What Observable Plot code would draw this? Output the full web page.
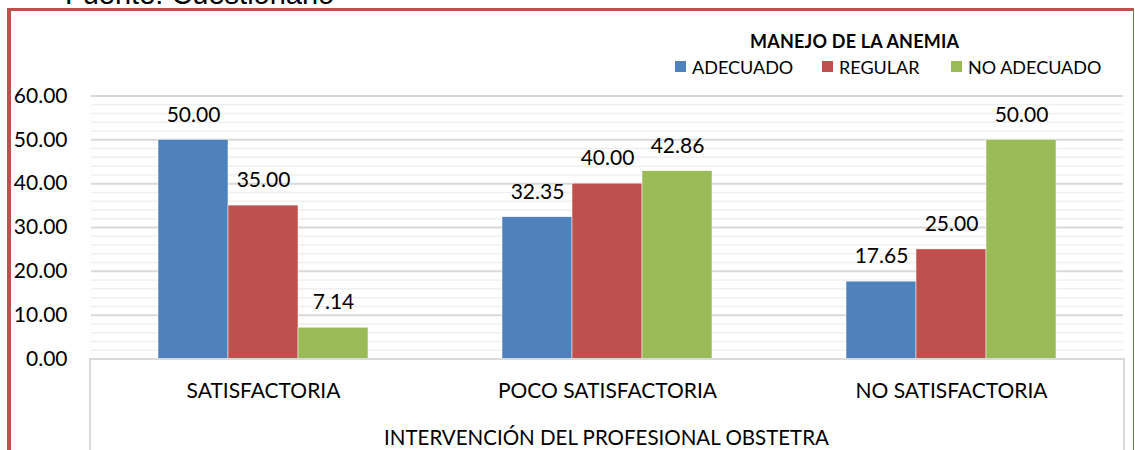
<!DOCTYPE html>
<html>
<head>
<meta charset="utf-8">
<script src="https://cdn.jsdelivr.net/npm/d3@7"></script>
<script src="https://cdn.jsdelivr.net/npm/@observablehq/plot@0.6"></script>
<style>
  html, body { margin: 0; padding: 0; background: #fff; }
  #wrap { position: relative; width: 1135px; height: 450px; overflow: hidden; background: #fff; font-family: Lato, sans-serif; color: #000; }
  #wrap svg { position: absolute; left: 0; top: 0; }
  .abs { position: absolute; white-space: nowrap; }
</style>
</head>
<body>
<div id="wrap"></div>
<script>
// ---- data ----
const categories = ["SATISFACTORIA", "POCO SATISFACTORIA", "NO SATISFACTORIA"];
const series = ["ADECUADO", "REGULAR", "NO ADECUADO"];
const adecuado = [50.00, 32.35, 17.65];
const regular = [35.00, 40.00, 25.00];
const noAdecuado = [7.14, 42.86, 50.00];
const colors = ["#4F81BD", "#C0504D", "#9BBB59"];
const majorTicks = [0, 10, 20, 30, 40, 50, 60];
const minorTicks = [2, 4, 6, 8, 12, 14, 16, 18, 22, 24, 26, 28, 32, 34, 36, 38, 42, 44, 46, 48, 52, 54, 56, 58];
const legendTitle = "MANEJO DE LA ANEMIA";
const xTitle = "INTERVENCIÓN DEL PROFESIONAL OBSTETRA";
const sourceText = "Fuente: Cuestionario";

const seriesValues = [adecuado, regular, noAdecuado];
const data = [];
categories.forEach((c, i) => {
  series.forEach((s, j) => data.push({cat: c, series: s, value: seriesValues[j][i]}));
});

const chart = Plot.plot({
  width: 1135,
  height: 450,
  marginLeft: 90,
  marginRight: 12,
  marginTop: 95.5,
  marginBottom: 91.5,
  style: {fontFamily: "Lato, sans-serif", fontSize: "21px", color: "#000", background: "transparent", overflow: "visible"},
  fx: {domain: categories, padding: 0, label: null},
  x: {domain: series, paddingInner: 0, paddingOuter: 0.95, axis: null},
  y: {domain: [0, 60], label: null},
  color: {domain: series, range: colors},
  marks: [
    Plot.gridY(minorTicks, {stroke: "#efefef", strokeOpacity: 1, strokeWidth: 1.5}),
    Plot.gridY(majorTicks, {stroke: "#d9d9d9", strokeOpacity: 1, strokeWidth: 2}),
    Plot.barY(data, {fx: "cat", x: "series", y: "value", fill: "series", stroke: "#fff", strokeWidth: 0.5}),
    Plot.text(data, {fx: "cat", x: "series", y: "value", text: d => d.value.toFixed(2), dy: -25, fontSize: 21, fill: "#000"}),
    Plot.axisY(majorTicks, {tickSize: 0, tickPadding: 24, tickFormat: d => d.toFixed(2), label: null, fill: "#000"}),
    Plot.axisFx({anchor: "bottom", tickSize: 0, tickPadding: 24, label: null, fill: "#000"})
  ]
});

const wrap = d3.select("#wrap");
wrap.node().appendChild(chart);

// box under the plot (category axis area)
wrap.append("div").attr("class", "abs")
  .style("left", "89px").style("top", "358px").style("width", "1032px").style("height", "120px")
  .style("border", "2px solid #d9d9d9");

// axis title
wrap.append("div").attr("class", "abs")
  .style("left", "90px").style("width", "1033px").style("top", "424px")
  .style("text-align", "center").style("font-size", "20.5px").style("line-height", "26px")
  .text(xTitle);

// legend
wrap.append("div").attr("class", "abs")
  .style("left", "750px").style("top", "30px").style("font-size", "18px").style("font-weight", "bold").style("line-height", "22px")
  .style("letter-spacing", "0.2px")
  .text(legendTitle);
const legendX = [675, 822, 951];
series.forEach((s, i) => {
  wrap.append("div").attr("class", "abs")
    .style("left", legendX[i] + "px").style("top", "61px").style("width", "11px").style("height", "11px")
    .style("background", colors[i]);
  wrap.append("div").attr("class", "abs")
    .style("left", (legendX[i] + 17) + "px").style("top", "56px").style("font-size", "18px").style("line-height", "22px")
    .text(s);
});

// outer red frame
wrap.append("div").attr("class", "abs")
  .style("left", "7px").style("top", "8px").style("width", "4px").style("height", "450px").style("background", "#C0504D");
wrap.append("div").attr("class", "abs")
  .style("left", "7px").style("top", "8px").style("width", "1127px").style("height", "3px").style("background", "#C0504D");
wrap.append("div").attr("class", "abs")
  .style("left", "1133px").style("top", "8px").style("width", "1px").style("height", "450px").style("background", "#C0504D");

// source text cut at the top
wrap.append("div").attr("class", "abs")
  .style("left", "65px").style("top", "-23px").style("font-family", "'Liberation Sans', Arial, sans-serif")
  .style("font-size", "29px").style("line-height", "34px")
  .text(sourceText);
</script>
</body>
</html>
